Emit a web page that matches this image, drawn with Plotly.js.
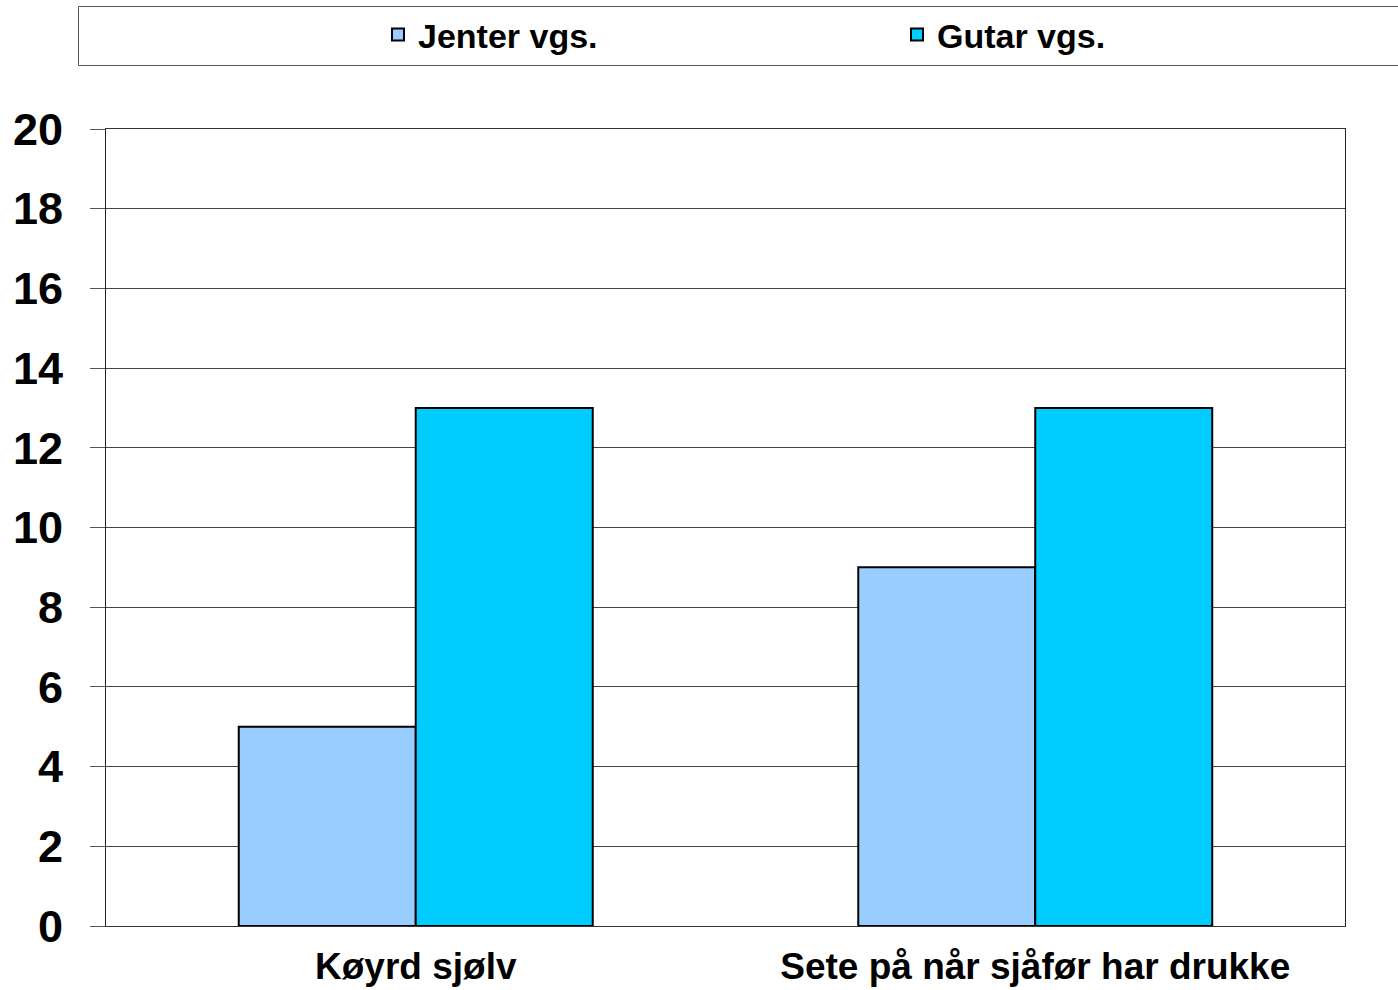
<!DOCTYPE html>
<html>
<head>
<meta charset="utf-8">
<script src="https://cdn.plot.ly/plotly-3.0.1.min.js"></script>
<style>html,body{margin:0;padding:0;background:#fff;}#chart{width:1398px;height:990px;}</style>
</head>
<body>
<div id="chart"></div>
<script>
const categories = ["Køyrd sjølv", "Sete på når sjåfør har drukke"];
const seriesNames = ["Jenter vgs.", "Gutar vgs."];
const jenter = [5, 9];
const gutar = [13, 13];
const yTicks = [0, 2, 4, 6, 8, 10, 12, 14, 16, 18, 20];

const FONT = "Liberation Sans, Arial, sans-serif";
const W = 1398, H = 990;
const M = {l: 106, r: 53, t: 129, b: 64, autoexpand: false};
const pw = W - M.l - M.r, ph = H - M.t - M.b;
const px = v => (v - M.l) / pw;
const py = v => (H - M.b - v) / ph;

const traces = [
  {type: 'bar', name: seriesNames[0], x: categories, y: jenter,
   marker: {color: '#99CCFF', line: {color: '#000', width: 2}}},
  {type: 'bar', name: seriesNames[1], x: categories, y: gutar,
   marker: {color: '#00CCFF', line: {color: '#000', width: 2}}}
];

const layout = {
  width: W, height: H,
  margin: M,
  paper_bgcolor: '#fff', plot_bgcolor: '#fff',
  font: {family: FONT, color: '#000'},
  barmode: 'group', bargap: 0.4286, bargroupgap: 0,
  showlegend: true,
  legend: {
    orientation: 'h', xref: 'paper', yref: 'paper',
    x: px(378), xanchor: 'left', y: py(35), yanchor: 'middle',
    entrywidth: 474, entrywidthmode: 'pixels',
    font: {family: FONT, size: 34, weight: 'bold', color: '#000'},
    bgcolor: 'rgba(0,0,0,0)', borderwidth: 0
  },
  xaxis: {
    type: 'category', showgrid: false, zeroline: false,
    showline: true, linecolor: '#333', linewidth: 1, mirror: true,
    ticks: '', tickfont: {family: FONT, size: 37, weight: 'bold', color: '#000'},
    ticklabelstandoff: 8
  },
  yaxis: {
    range: [0, 20], tickvals: yTicks, ticktext: yTicks.map(String),
    showgrid: true, gridcolor: '#444', gridwidth: 1,
    zeroline: false, showline: true, linecolor: '#222', linewidth: 1, mirror: true,
    ticks: 'outside', ticklen: 15, tickcolor: '#555', tickwidth: 1,
    ticklabelstandoff: 18,
    tickfont: {family: FONT, size: 45, weight: 'bold', color: '#000'}
  },
  shapes: [
    {type: 'rect', xref: 'paper', yref: 'paper',
     x0: px(78.5), x1: px(1420), y0: py(6.5), y1: py(65.5),
     line: {color: '#555', width: 1}, fillcolor: 'rgba(0,0,0,0)', layer: 'below'}
  ]
};

Plotly.newPlot('chart', traces, layout, {displayModeBar: false, staticPlot: true});
</script>
</body>
</html>
